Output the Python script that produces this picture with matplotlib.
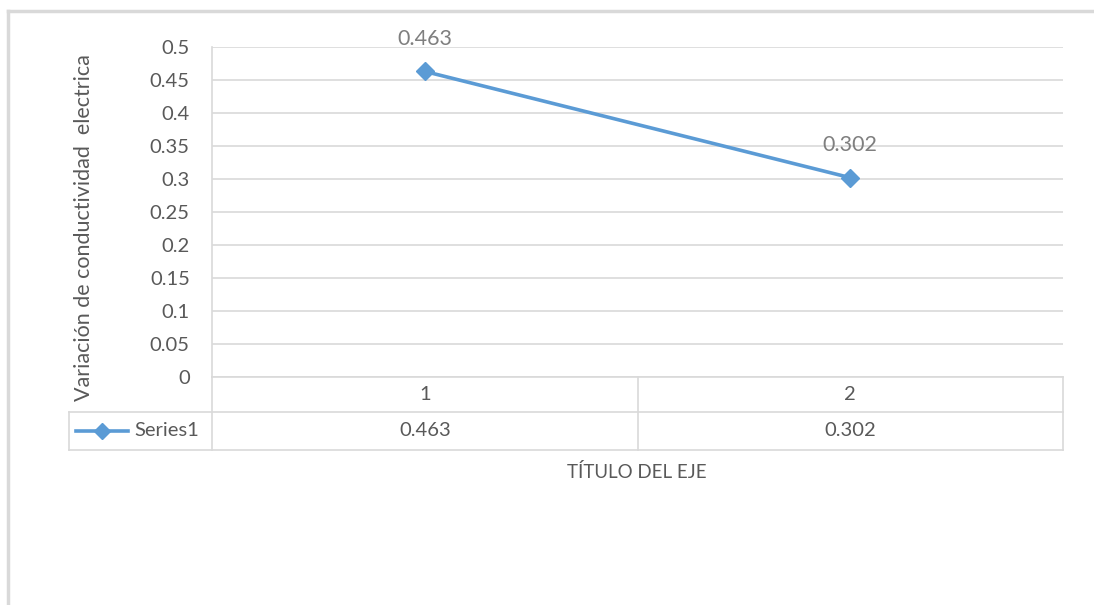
import matplotlib
matplotlib.use('Agg')
from matplotlib import pyplot as plt
from matplotlib.lines import Line2D

categories = [1, 2]
series_name = 'Series1'
values = [0.463, 0.302]
y_ticks = [0, 0.05, 0.1, 0.15, 0.2, 0.25, 0.3, 0.35, 0.4, 0.45, 0.5]
y_label = 'Variación de conductividad  electrica'
x_label = 'TÍTULO DEL EJE'

W, H = 1094, 605
BLUE = '#5B9BD5'
GRID = '#D9D9D9'
TEXT = '#595959'
plt.rcParams['font.family'] = ['Lato', 'DejaVu Sans']

fig = plt.figure(figsize=(W / 100, H / 100), dpi=100)


def fx(px):
    return px / W


def fy(py):
    return 1 - py / H


# outer chart frame (cut off at right and bottom)
fig.add_artist(Line2D([fx(8), fx(8)], [fy(11), 0], color=GRID, lw=2.5))
fig.add_artist(Line2D([fx(8), 1], [fy(11), fy(11)], color=GRID, lw=2.5))

left, right, top, bottom = 212, 1063, 47, 377
ax = fig.add_axes([fx(left), fy(bottom), fx(right - left), fy(top) - fy(bottom)])
ax.set_xlim(0.5, len(categories) + 0.5)
ax.set_ylim(0, 0.5)
ax.set_yticks(y_ticks)
ax.set_yticklabels([f'{t:g}' for t in y_ticks])
ax.tick_params(axis='y', length=0, pad=16, labelsize=14.5, labelcolor=TEXT)
ax.set_xticks([])
ax.grid(axis='y', color=GRID, lw=1.2)
ax.set_axisbelow(True)
for side in ['top', 'right', 'bottom']:
    ax.spines[side].set_visible(False)
ax.spines['left'].set_color(GRID)
ax.spines['left'].set_linewidth(1.2)

ax.plot(categories, values, color=BLUE, lw=2.6, marker='D', markersize=9,
        markerfacecolor=BLUE, markeredgecolor=BLUE, clip_on=False, zorder=3)
for c, v in zip(categories, values):
    ax.annotate(f'{v:g}', (c, v), xytext=(0, 16), textcoords='offset points',
                ha='center', va='bottom', fontsize=15.5, color='#7F7F7F')

# data table under the plot
row1, row2 = 412, 450
tbl_left = 69
lw = 1.2
fig.add_artist(Line2D([fx(left), fx(right)], [fy(bottom), fy(bottom)], color=GRID, lw=lw))
for yy in (row1, row2):
    fig.add_artist(Line2D([fx(tbl_left), fx(right)], [fy(yy), fy(yy)], color=GRID, lw=lw))
fig.add_artist(Line2D([fx(tbl_left), fx(tbl_left)], [fy(row1), fy(row2)], color=GRID, lw=lw))
fig.add_artist(Line2D([fx(left), fx(left)], [fy(bottom), fy(row2)], color=GRID, lw=lw))
cell_w = (right - left) / len(categories)
for i in range(1, len(categories) + 1):
    xb = left + i * cell_w
    fig.add_artist(Line2D([fx(xb), fx(xb)], [fy(bottom), fy(row2)], color=GRID, lw=lw))
for i, (c, v) in enumerate(zip(categories, values)):
    xc = left + (i + 0.5) * cell_w
    fig.text(fx(xc), fy((bottom + row1) / 2), str(c), ha='center', va='center',
             fontsize=14.5, color=TEXT)
    fig.text(fx(xc), fy((row1 + row2) / 2), f'{v:g}', ha='center', va='center',
             fontsize=14.5, color=TEXT)

# legend key in the table's first column
ym = fy((row1 + row2) / 2)
fig.add_artist(Line2D([fx(76), fx(128)], [ym, ym], color=BLUE, lw=2.6))
fig.add_artist(Line2D([fx(102)], [ym], color=BLUE, marker='D', markersize=8,
                      markeredgecolor=BLUE))
fig.text(fx(134), ym, series_name, ha='left', va='center', fontsize=14.5, color=TEXT)

fig.text(fx(637), fy(472), x_label, ha='center', va='center', fontsize=13.5,
         color=TEXT)
fig.text(fx(84), fy(228), y_label, rotation=90, ha='center', va='center',
         fontsize=15.5, color=TEXT)

plt.savefig('out.png', dpi=100, facecolor='white')
